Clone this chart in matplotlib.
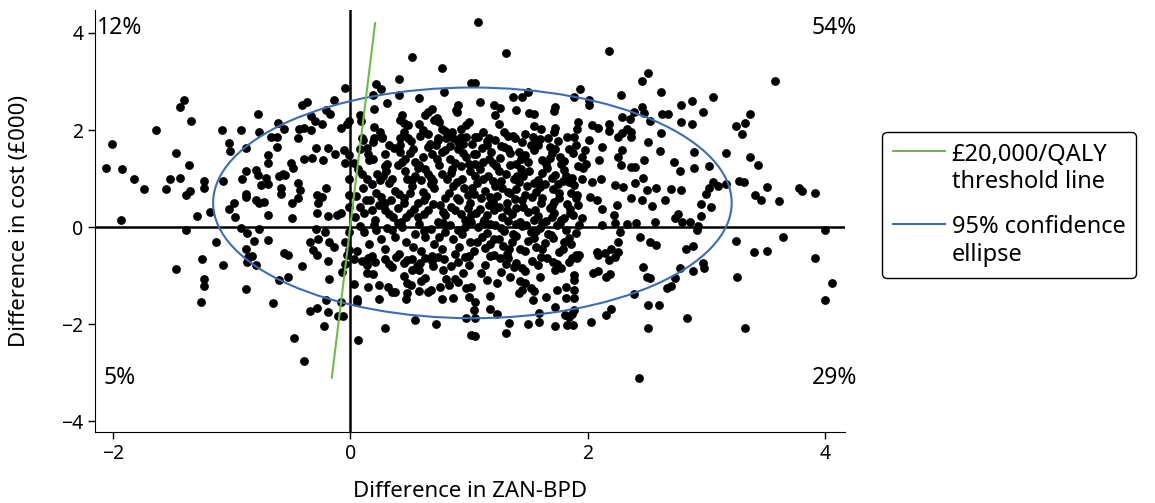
import matplotlib.pyplot as plt
from matplotlib.patches import Ellipse
from matplotlib.lines import Line2D
from matplotlib.legend_handler import HandlerLine2D

plt.rcParams["font.family"] = ["Noto Sans", "DejaVu Sans"]

# bootstrap replicates: (difference in ZAN-BPD, difference in cost £000)
left_pts = [
    (-1.40, 2.61), (-1.43, 2.48), (-1.34, 2.18), (-1.64, 2.00), (-1.08, 2.00), (-0.92, 2.00),
    (-0.78, 2.34), (-0.77, 1.96), (-0.61, 2.15), (-0.56, 2.03), (-0.67, 1.86), (-0.62, 1.86),
    (-2.01, 1.72), (-2.06, 1.21), (-1.92, 1.20), (-1.82, 0.99), (-1.74, 0.79), (-1.47, 1.53),
    (-1.52, 0.99), (-1.43, 1.01), (-1.36, 1.27), (-1.55, 0.78), (-1.35, 0.74), (-1.38, 0.66),
    (-1.23, 0.95), (-1.23, 0.81), (-1.02, 1.74), (-1.01, 1.57), (-0.88, 1.63), (-1.07, 0.95),
    (-1.29, 0.23), (-1.18, 0.32), (-1.93, 0.14), (-1.38, -0.05), (-1.13, -0.31), (-1.25, -0.66),
    (-1.02, 0.37), (-0.98, 0.49), (-0.97, 0.21), (-0.91, 1.00), (-0.88, 1.15), (-0.88, 0.69),
    (-0.88, 0.62), (-0.79, 1.17), (-0.78, 1.08), (-0.69, 1.48), (-0.69, 1.33), (-0.71, 1.01),
    (-0.75, 0.86), (-0.69, 0.88), (-0.62, 1.65), (-0.60, 1.06), (-0.57, 1.10), (-0.58, 0.80),
    (-0.58, 0.69), (-0.79, 0.56), (-0.77, 0.49), (-0.73, 0.52), (-0.69, 0.25), (-0.92, -0.01),
    (-0.87, -0.13), (-0.77, -0.04), (-0.81, -0.29), (-0.69, -0.27), (-0.88, -0.44), (-0.56, -0.54),
    (-0.86, -0.61), (-0.83, -0.59), (-1.47, -0.86), (-1.07, -0.78), (-1.23, -1.07), (-1.23, -1.21),
    (-1.26, -1.54), (-0.88, -1.28), (-0.65, -1.57), (-0.87, -0.71), (-0.79, -0.77), (-0.60, -1.08),
]

near_zero_pts = [
    (-0.04, 2.87), (-0.14, 2.61), (-0.41, 2.51), (-0.36, 2.57), (-0.33, 2.28), (-0.30, 2.18),
    (-0.20, 2.41), (-0.17, 2.32), (-0.24, 2.12), (-0.43, 2.03), (-0.39, 2.05), (-0.33, 2.00),
    (-0.08, 2.04), (-0.03, 2.13), (-0.01, 2.18), (-0.44, 1.83), (-0.29, 1.62), (-0.19, 1.63),
    (-0.13, 1.50), (-0.05, 1.58), (-0.01, 1.48), (-0.39, 1.41), (-0.32, 1.43), (-0.23, 1.38),
    (-0.50, 1.33), (-0.48, 1.21), (-0.04, 1.33), (-0.55, 1.07), (-0.44, 0.90), (-0.42, 0.76),
    (-0.44, 0.59), (-0.28, 0.66), (-0.24, 0.62), (-0.27, 0.49), (-0.20, 0.80), (-0.49, 0.49),
    (-0.01, 1.00), (-0.01, 0.66), (-0.01, 0.42), (-0.28, 0.30), (-0.19, 0.23), (-0.11, 0.25),
    (-0.08, 0.30), (-0.49, 0.19), (-0.29, -0.03), (-0.21, -0.10), (-0.27, -0.25), (-0.18, -0.30),
    (-0.14, -0.41), (-0.31, -0.47), (-0.34, -0.30), (-0.52, -0.58), (-0.01, -0.10), (-0.04, -0.30),
    (-0.01, -0.47), (-0.03, -0.58), (-0.39, -2.75), (-0.47, -2.29), (-0.22, -2.04), (-0.34, -1.72),
    (-0.28, -1.67), (-0.19, -1.74), (-0.10, -1.83), (-0.06, -1.83), (-0.20, -1.50), (-0.08, -1.54),
    (-0.52, -1.02), (-0.41, -0.80), (-0.19, -0.70), (-0.18, -1.07), (-0.28, -0.58), (-0.07, -0.92),
    (-0.04, -0.75),
]

upper_mid_pts = [
    (0.52, 3.51), (0.77, 3.28), (0.41, 3.05), (0.22, 2.94), (0.26, 2.84), (0.19, 2.72),
    (0.41, 2.73), (0.79, 2.78), (1.02, 2.97), (0.58, 2.65), (0.20, 2.44), (0.31, 2.56),
    (0.08, 2.30), (0.09, 2.18), (0.20, 2.06), (0.44, 2.30), (0.42, 2.20), (0.45, 2.15),
    (0.49, 2.10), (0.58, 2.13), (0.61, 2.00), (0.66, 2.37), (0.69, 2.44), (0.63, 2.30),
    (0.73, 2.24), (0.75, 2.17), (0.71, 2.20), (0.91, 2.52), (0.89, 2.41), (0.90, 2.37),
    (0.77, 2.03), (0.80, 1.98), (0.86, 1.96), (0.93, 2.03), (0.98, 2.10), (1.00, 2.17),
    (0.10, 1.84), (0.20, 1.84), (0.27, 1.84), (0.42, 1.84), (0.49, 1.84), (0.74, 1.83),
    (0.81, 1.83), (0.87, 1.84), (0.93, 1.86), (1.08, 4.22), (1.31, 3.59), (2.18, 3.62),
    (2.51, 3.18), (2.46, 3.00), (1.94, 2.84), (1.89, 2.67), (2.28, 2.72), (2.62, 2.78),
    (2.01, 2.62), (2.01, 2.51), (1.50, 2.78), (1.37, 2.68), (1.45, 2.68), (1.09, 2.58),
    (1.05, 2.96), (1.21, 2.51), (1.26, 2.45), (1.22, 2.30), (1.25, 2.12), (1.40, 2.41),
    (1.51, 2.36), (1.55, 2.33), (1.73, 2.48), (1.72, 2.39), (1.55, 2.08), (1.61, 2.02),
    (1.73, 2.05), (1.92, 2.17), (1.91, 2.03), (2.04, 2.10), (2.09, 2.05), (2.18, 2.12),
    (2.18, 1.98), (2.29, 2.27), (2.36, 2.22), (2.39, 2.37), (2.46, 2.48), (2.48, 2.35),
    (2.53, 2.18), (2.63, 2.34), (2.33, 2.03), (2.37, 1.96), (2.29, 1.93), (2.62, 1.93),
    (1.05, 1.85), (1.17, 1.83), (1.33, 1.88), (1.39, 1.84), (1.54, 1.86), (1.67, 1.83),
    (1.89, 1.85),
]

upper_right_pts = [
    (3.58, 3.01), (3.06, 2.68), (2.79, 2.52), (2.88, 2.59), (2.97, 2.37), (2.68, 2.32),
    (2.79, 2.17), (2.88, 2.13), (3.37, 2.34), (3.33, 2.15), (3.25, 2.08), (3.30, 1.91),
    (2.90, 1.55), (3.17, 1.52), (3.37, 1.44), (3.44, 1.28), (2.73, 1.34), (2.78, 1.16),
    (2.90, 1.22), (3.02, 1.26), (3.06, 0.93), (3.10, 0.85), (3.17, 0.88), (3.02, 0.81),
    (3.00, 0.68), (3.28, 0.95), (3.32, 0.92), (3.51, 0.82), (3.41, 0.66), (3.46, 0.56),
    (3.61, 0.53), (3.78, 0.80), (3.81, 0.74), (3.92, 0.71), (2.70, 0.78), (2.79, 0.76),
    (2.65, 0.56), (2.96, 0.47), (3.04, 0.41), (2.96, 0.23), (2.74, 0.19), (2.76, 0.27),
    (2.80, 0.10), (2.86, 0.10), (2.93, 0.02),
    (2.61, 1.56), (2.58, 0.80), (2.37, 1.24), (2.40, 1.23), (2.48, 1.38), (2.47, 1.01),
    (2.40, 0.90), (2.23, 0.86), (2.30, 0.83), (2.25, 0.45), (2.37, 0.59), (2.46, 0.56),
    (2.54, 0.44), (2.50, 0.76), (2.29, 1.58), (2.26, 1.45), (2.28, 1.28), (2.12, 1.65),
    (2.10, 1.38), (2.26, 1.86), (2.37, 1.86), (2.51, 1.76), (2.11, 1.00), (2.04, 0.93),
    (2.02, 0.62), (2.08, 0.56), (2.12, 0.38), (2.22, 0.25), (2.12, 0.04), (2.23, 0.08),
    (2.33, 0.06), (2.41, 0.08), (2.57, 0.10), (2.01, 1.79), (1.98, 1.58), (1.99, 1.31),
    (1.96, 1.21), (1.95, 1.00), (1.89, 0.86), (1.91, 0.66), (1.92, 0.45), (1.95, 0.18),
]

lower_right_pts = [
    (2.92, -0.06), (4.00, -0.06), (3.65, -0.20), (3.25, -0.29), (2.83, -0.46), (2.89, -0.39),
    (3.40, -0.52), (3.51, -0.49), (3.92, -0.64), (4.06, -1.16), (4.00, -1.50), (3.26, -1.02),
    (3.33, -2.07), (2.84, -1.87), (2.78, -0.84), (2.89, -0.90), (2.97, -0.73), (2.98, -0.85),
    (2.74, -1.04), (2.67, -1.25), (2.70, -1.22), (2.43, -3.10), (2.51, -2.08), (2.16, -1.80),
    (2.20, -1.69), (2.51, -1.61), (2.60, -1.61), (2.39, -1.38), (2.47, -0.83), (2.50, -1.02),
    (2.53, -1.04), (2.05, -0.95), (2.09, -0.91), (2.16, -1.02), (2.19, -0.97), (2.23, -0.61),
    (2.18, -0.68), (2.09, -0.58), (2.27, -0.10), (2.44, -0.20), (2.53, -0.30), (2.58, -0.37),
    (2.26, -0.30), (2.26, -0.51), (2.15, -0.54), (2.08, -0.51), (2.20, -0.44),
]

lower_mid_pts = [
    (0.07, -2.33), (0.29, -2.08), (0.06, -1.47), (0.06, -1.54), (0.55, -1.92), (0.72, -2.00),
    (1.02, -2.22), (0.98, -1.87), (0.03, -1.18), (0.15, -1.23), (0.24, -1.19), (0.32, -1.23),
    (0.35, -1.34), (0.24, -1.47), (0.38, -1.33), (0.14, -0.95), (0.19, -0.97), (0.14, -0.78),
    (0.48, -1.16), (0.51, -1.19), (0.47, -1.47), (0.48, -1.36), (0.58, -1.31), (0.66, -1.33),
    (0.68, -1.30), (0.63, -1.04), (0.52, -0.88), (0.58, -0.88), (0.77, -1.47), (0.76, -1.24),
    (0.83, -1.19), (0.87, -1.45), (0.91, -1.13), (0.98, -1.26), (1.00, -1.43), (1.02, -1.23),
    (0.78, -0.88), (0.81, -1.06), (0.88, -1.06), (1.04, -1.71), (0.03, -0.66), (0.10, -0.70),
    (0.15, -0.64), (0.21, -0.72), (0.29, -0.66), (0.39, -0.62), (0.45, -0.73), (0.48, -0.68),
    (0.59, -0.74), (0.63, -0.64), (0.69, -0.70), (0.74, -0.62), (0.79, -0.66), (0.91, -0.72),
    (1.00, -0.60), (1.31, -2.17), (1.05, -2.24), (1.34, -1.97), (1.50, -2.00), (1.59, -1.95),
    (1.73, -2.04), (1.83, -2.02), (1.88, -2.02), (2.03, -1.95), (1.10, -0.95), (1.15, -1.08),
    (1.24, -1.16), (1.27, -0.92), (1.18, -1.41), (1.18, -1.69), (1.24, -1.78), (1.05, -1.54),
    (1.05, -1.88), (1.43, -1.11), (1.47, -1.16), (1.45, -1.30), (1.42, -1.36), (1.52, -1.26),
    (1.55, -1.32), (1.54, -1.50), (1.65, -1.43), (1.74, -1.30), (1.73, -1.64), (1.59, -1.76),
    (1.82, -1.23), (1.89, -0.99), (1.89, -1.09), (1.89, -1.30), (1.82, -1.45), (1.89, -1.45),
    (1.81, -1.81), (1.87, -1.78), (1.89, -1.71), (1.84, -1.85), (1.73, -0.88), (1.78, -0.85),
    (1.74, -0.75), (1.71, -0.71), (1.84, -0.71), (1.87, -0.64), (1.91, -0.64), (1.93, -0.58),
    (1.66, -0.63), (1.53, -0.70), (1.40, -0.73), (1.45, -0.85), (1.47, -0.91), (1.33, -0.64),
    (1.31, -0.75), (1.26, -0.64), (1.21, -0.58), (0.35, -0.82), (0.45, -1.00), (0.70, -0.80),
    (0.95, -0.95), (1.60, -1.02), (1.35, -1.02), (1.00, -0.78), (0.60, -1.10),
]

# dense core, x 0 to 2 (estimated row by row)
core_pts = [
    (0.11, 1.80), (0.19, 1.75), (0.27, 1.85), (0.42, 1.70), (0.51, 1.78), (0.59, 1.88),
    (0.67, 1.72), (0.74, 1.80), (0.84, 1.68), (0.91, 1.76), (0.98, 1.85), (1.03, 1.72),
    (0.08, 1.60), (0.19, 1.40), (0.29, 1.50), (0.42, 1.55), (0.46, 1.40), (0.53, 1.60),
    (0.61, 1.45), (0.69, 1.50), (0.77, 1.55), (0.84, 1.40), (0.91, 1.60), (0.98, 1.45),
    (1.04, 1.50), (0.07, 1.20), (0.23, 1.10), (0.29, 1.25), (0.35, 1.00), (0.46, 1.15),
    (0.55, 1.05), (0.63, 1.20), (0.70, 0.95), (0.77, 1.10), (0.86, 1.20), (0.94, 1.00),
    (1.01, 1.15), (0.25, 0.98), (0.40, 1.28), (0.60, 0.97), (0.82, 1.00), (0.93, 1.25),
    (0.11, 0.80), (0.17, 0.55), (0.22, 0.70), (0.29, 0.50), (0.38, 0.75), (0.45, 0.60),
    (0.52, 0.85), (0.57, 0.50), (0.64, 0.65), (0.71, 0.80), (0.76, 0.45), (0.83, 0.70),
    (0.90, 0.60), (0.96, 0.80), (1.01, 0.50), (0.12, 0.30), (0.21, 0.15), (0.29, 0.35),
    (0.36, 0.20), (0.43, 0.10), (0.50, 0.30), (0.57, 0.20), (0.66, 0.35), (0.74, 0.10),
    (0.80, 0.25), (0.88, 0.35), (0.97, 0.15), (1.02, 0.25), (0.12, -0.10), (0.26, -0.25),
    (0.35, -0.05), (0.47, -0.30), (0.55, -0.15), (0.63, -0.20), (0.71, -0.35), (0.80, -0.10),
    (0.87, -0.25), (0.94, -0.15), (1.01, -0.30), (0.06, -0.50), (0.18, -0.60), (0.29, -0.45),
    (0.41, -0.55), (0.52, -0.65), (0.60, -0.50), (0.69, -0.60), (0.77, -0.45), (0.88, -0.55),
    (0.97, -0.62), (0.14, 1.62), (0.33, 1.70), (0.50, 1.52), (0.66, 1.66), (0.80, 1.58),
    (0.95, 1.72), (0.03, 1.33), (0.16, 1.38), (0.31, 1.30), (0.44, 1.35), (0.58, 1.28),
    (0.73, 1.40), (0.88, 1.32), (1.00, 1.30), (0.14, 1.00), (0.33, 0.90), (0.52, 0.97),
    (0.68, 1.02), (0.90, 0.92), (0.05, 0.65), (0.26, 0.62), (0.41, 0.68), (0.61, 0.72),
    (0.80, 0.60), (0.99, 0.66), (0.08, 0.42), (0.24, 0.45), (0.40, 0.40), (0.54, 0.38),
    (0.70, 0.48), (0.85, 0.42), (0.99, 0.40), (0.08, 0.02), (0.20, 0.05), (0.31, -0.02),
    (0.44, 0.00), (0.58, 0.06), (0.68, -0.03), (0.84, 0.04), (0.97, 0.00),
    (1.08, 1.85), (1.15, 1.70), (1.22, 1.80), (1.30, 1.65), (1.37, 1.88), (1.45, 1.75),
    (1.52, 1.70), (1.60, 1.82), (1.68, 1.66), (1.75, 1.78), (1.83, 1.86), (1.90, 1.70),
    (1.06, 1.50), (1.12, 1.35), (1.19, 1.55), (1.26, 1.42), (1.33, 1.60), (1.40, 1.30),
    (1.47, 1.48), (1.55, 1.58), (1.62, 1.38), (1.70, 1.52), (1.77, 1.44), (1.84, 1.60),
    (1.09, 1.20), (1.16, 1.05), (1.23, 1.25), (1.31, 1.10), (1.38, 1.00), (1.44, 1.20),
    (1.51, 1.15), (1.58, 0.98), (1.66, 1.22), (1.73, 1.08), (1.80, 1.18), (1.87, 1.02),
    (1.07, 0.90), (1.14, 0.75), (1.20, 0.95), (1.28, 0.80), (1.35, 0.70), (1.42, 0.92),
    (1.49, 0.85), (1.57, 0.72), (1.64, 0.88), (1.71, 0.78), (1.79, 0.95), (1.86, 0.70),
    (1.10, 0.60), (1.17, 0.45), (1.24, 0.65), (1.32, 0.50), (1.39, 0.58), (1.46, 0.42),
    (1.53, 0.62), (1.61, 0.50), (1.68, 0.40), (1.76, 0.60), (1.83, 0.48), (1.06, 0.30),
    (1.13, 0.15), (1.21, 0.35), (1.28, 0.20), (1.36, 0.28), (1.43, 0.10), (1.50, 0.32),
    (1.58, 0.22), (1.65, 0.12), (1.72, 0.30), (1.80, 0.18), (1.88, 0.25), (1.08, 0.00),
    (1.15, -0.12), (1.22, 0.05), (1.30, -0.08), (1.37, -0.15), (1.45, 0.02), (1.52, -0.10),
    (1.60, -0.02), (1.67, -0.14), (1.74, 0.04), (1.82, -0.06), (1.90, -0.12), (1.07, -0.30),
    (1.14, -0.42), (1.21, -0.25), (1.29, -0.38), (1.36, -0.30), (1.43, -0.45), (1.50, -0.28),
    (1.57, -0.40), (1.64, -0.33), (1.71, -0.22), (1.79, -0.45), (1.86, -0.35),
    (1.11, 1.62), (1.27, 1.68), (1.42, 1.55), (1.58, 1.70), (1.73, 1.60), (1.88, 1.52),
    (1.05, 1.30), (1.20, 1.32), (1.35, 1.28), (1.50, 1.34), (1.65, 1.30), (1.80, 1.36),
    (1.12, 1.00), (1.27, 0.95), (1.41, 1.06), (1.55, 0.90), (1.70, 1.02), (1.84, 0.92),
    (1.04, 0.68), (1.18, 0.62), (1.33, 0.72), (1.47, 0.66), (1.62, 0.60), (1.76, 0.70),
    (1.09, 0.38), (1.25, 0.42), (1.40, 0.40), (1.56, 0.36), (1.70, 0.44), (1.85, 0.38),
    (1.02, 0.10), (1.18, 0.06), (1.33, 0.12), (1.48, 0.04), (1.62, 0.08), (1.78, 0.14),
    (1.93, 0.05), (1.11, -0.20), (1.25, -0.24), (1.40, -0.18), (1.55, -0.22), (1.69, -0.16),
    (1.84, -0.22), (1.04, -0.50), (1.18, -0.60), (1.32, -0.55), (1.47, -0.50), (1.61, -0.62),
    (1.76, -0.52), (1.90, -0.58),
]

core_extra_pts = [
    (0.15, 1.50), (0.37, 1.62), (0.55, 1.35), (0.72, 1.70), (0.95, 1.52), (1.15, 1.78),
    (1.35, 1.52), (1.55, 1.72), (1.78, 1.30), (1.95, 1.45), (0.10, 1.10), (0.30, 1.15),
    (0.48, 1.00), (0.66, 1.10), (0.85, 1.12), (1.05, 1.05), (1.25, 1.15), (1.46, 1.05),
    (1.62, 1.12), (1.82, 1.05), (0.18, 0.88), (0.34, 0.55), (0.50, 0.70), (0.68, 0.88),
    (0.87, 0.85), (1.03, 0.80), (1.22, 0.85), (1.40, 0.78), (1.60, 0.82), (1.75, 0.88),
    (0.04, 0.20), (0.18, 0.35), (0.33, 0.28), (0.47, 0.20), (0.62, 0.28), (0.78, 0.32),
    (0.93, 0.28), (1.15, 0.25), (1.32, 0.35), (1.55, 0.15), (1.70, 0.20), (1.85, 0.30),
    (0.16, -0.35), (0.38, -0.20), (0.53, -0.40), (0.75, -0.20), (0.92, -0.40), (1.18, -0.35),
    (1.34, -0.45), (1.62, -0.45), (1.80, -0.30), (0.22, -0.05), (0.40, 0.08), (0.62, -0.08),
    (0.78, 0.08), (0.91, -0.05), (1.12, 0.08), (1.27, -0.02), (1.40, 0.06), (1.57, -0.08),
    (1.77, 0.08), (0.25, 1.95), (0.45, 1.95), (0.66, 1.92), (0.85, 1.92), (1.12, 1.95),
    (1.30, 1.95), (1.47, 1.92), (1.72, 1.95), (0.33, -0.75), (0.56, -0.80), (0.85, -0.80),
    (1.14, -0.78), (1.38, -0.82), (1.58, -0.78), (0.28, 1.05), (0.57, 1.22), (0.75, 1.28),
    (1.17, 1.40), (1.44, 1.40), (1.68, 1.42), (1.92, 1.25), (0.13, 0.55), (0.45, 0.50),
    (0.62, 0.55), (0.92, 0.55), (1.20, 0.52), (1.45, 0.55), (1.72, 0.52), (1.90, 0.60),
]

quadrant_labels = ["12%", "54%", "5%", "29%"]

# 95% confidence ellipse and the £20,000/QALY line, as estimated from the figure
ELLIPSE_CENTRE = (1.03, 0.50)
ELLIPSE_WIDTH = 4.37
ELLIPSE_HEIGHT = 4.75
WTP = 20  # £000 per QALY
threshold_effect = [-0.155, 0.21]

GREEN = "#6cbd45"
BLUE = "#3c6cb4"


class FirstLineHandler(HandlerLine2D):
    # put the legend line level with the first line of a two-line label
    def __init__(self, shift=0.75, **kw):
        super().__init__(**kw)
        self.shift = shift

    def create_artists(self, legend, orig_handle, xdescent, ydescent, width, height, fontsize, trans):
        artists = super().create_artists(legend, orig_handle, xdescent, ydescent,
                                         width, height, fontsize, trans)
        for a in artists:
            a.set_ydata([y + self.shift * fontsize for y in a.get_ydata()])
        return artists


def main():
    all_pts = (left_pts + near_zero_pts + upper_mid_pts + upper_right_pts
               + lower_right_pts + lower_mid_pts + core_pts + core_extra_pts)
    xs = [p[0] for p in all_pts]
    ys = [p[1] for p in all_pts]

    fig = plt.figure(figsize=(11.55, 5.03), dpi=100)
    ax = fig.add_axes([0.0823, 0.141, 0.6493, 0.839])

    ax.axhline(0, color="black", lw=1.8, zorder=1)
    ax.axvline(0, color="black", lw=1.8, zorder=1)

    ax.scatter(xs, ys, s=40, color="black", linewidths=0, zorder=2)

    ell = Ellipse(ELLIPSE_CENTRE, ELLIPSE_WIDTH, ELLIPSE_HEIGHT, fill=False,
                  edgecolor=BLUE, lw=1.5, zorder=3)
    ax.add_patch(ell)
    ax.plot(threshold_effect, [WTP * e for e in threshold_effect], color=GREEN, lw=1.5, zorder=4)

    ax.set_xlim(-2.15, 4.17)
    ax.set_ylim(-4.22, 4.47)
    ax.set_xticks([-2, 0, 2, 4])
    ax.set_yticks([-4, -2, 0, 2, 4])
    ax.tick_params(labelsize=14, length=5, width=1)
    for side in ["top", "right"]:
        ax.spines[side].set_visible(False)
    ax.set_xlabel("Difference in ZAN-BPD", fontsize=16, labelpad=12)
    ax.set_ylabel("Difference in cost (£000)", fontsize=16, labelpad=22)

    ax.text(0.003, 0.985, quadrant_labels[0], transform=ax.transAxes, fontsize=16.5, va="top", ha="left")
    ax.text(1.016, 0.985, quadrant_labels[1], transform=ax.transAxes, fontsize=16.5, va="top", ha="right")
    ax.text(0.011, 0.127, quadrant_labels[2], transform=ax.transAxes, fontsize=16.5, va="center", ha="left")
    ax.text(1.016, 0.127, quadrant_labels[3], transform=ax.transAxes, fontsize=16.5, va="center", ha="right")

    handles = [Line2D([], [], color=GREEN, lw=1.5), Line2D([], [], color=BLUE, lw=1.5)]
    labels = ["£20,000/QALY\nthreshold line", "95% confidence\nellipse"]
    leg = fig.legend(handles, labels, loc="upper left", bbox_to_anchor=(0.7636, 0.7376),
                     borderaxespad=0, fontsize=17, handlelength=2.2, handletextpad=0.3,
                     frameon=True, fancybox=True, edgecolor="black", framealpha=1,
                     borderpad=0.45, labelspacing=0.9,
                     handler_map={Line2D: FirstLineHandler()})
    leg.get_frame().set_linewidth(1.0)

    fig.savefig("out.png", dpi=100)


if __name__ == "__main__":
    main()
